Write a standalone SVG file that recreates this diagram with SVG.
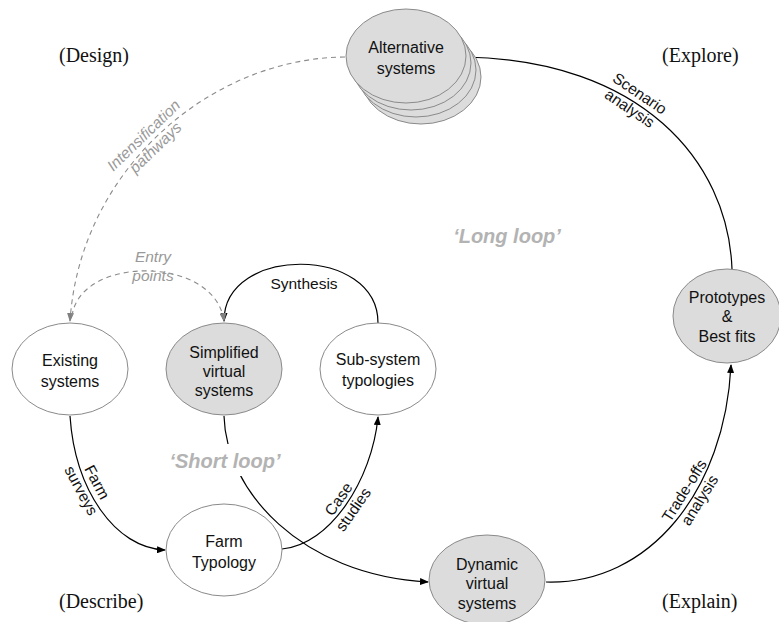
<svg xmlns="http://www.w3.org/2000/svg" width="779" height="622" viewBox="0 0 779 622">
<style>
.node{stroke:#8a8a8a;stroke-width:1}
.w{fill:#ffffff}
.g{fill:#dcdcdc}
.t{font-family:"Liberation Sans",Arial,sans-serif;font-size:16px;fill:#111;text-anchor:middle}
.lab{font-family:"Liberation Sans",Arial,sans-serif;font-size:15.5px;fill:#111;text-anchor:middle}
.glab{font-family:"Liberation Sans",Arial,sans-serif;font-size:15.5px;fill:#999;font-style:italic;text-anchor:middle}
.loop{font-family:"Liberation Sans",Arial,sans-serif;font-size:20px;font-weight:bold;font-style:italic;fill:#b3b3b3;text-anchor:middle}
.phase{font-family:"Liberation Serif","Times New Roman",serif;font-size:20px;fill:#111}
.c{fill:none;stroke:#000;stroke-width:1.2}
.d{fill:none;stroke:#8c8c8c;stroke-width:1.1;stroke-dasharray:5,4}
</style>
<defs>
<marker id="ab" markerWidth="9" markerHeight="7" refX="8" refY="3.5" orient="auto" markerUnits="userSpaceOnUse">
<path d="M0,0 L9,3.5 L0,7 z" fill="#000"/>
</marker>
<marker id="ag" markerWidth="9" markerHeight="7" refX="8" refY="3.5" orient="auto" markerUnits="userSpaceOnUse">
<path d="M0,0 L9,3.5 L0,7 z" fill="#808080"/>
</marker>
</defs>

<g id="connectors">
<path id="scenario" class="c" d="M732,269 C728,160 640,60 465,57" marker-end="url(#ab)"/>
<path id="tradeoffs" class="c" d="M546,582 C650,585 725,490 731,365" marker-end="url(#ab)"/>
<path id="farmsurveys" class="c" d="M70,416 C75,490 115,548 165,550" marker-end="url(#ab)"/>
<path id="casestudies" class="c" d="M282,549 C330,545 372,480 378,417" marker-end="url(#ab)"/>
<path id="shortloop" class="c" d="M224,416 C226,490 300,575 428,582" marker-end="url(#ab)"/>
<path id="synthesis" class="c" d="M378,323 C378,245 224,245 224,321" marker-end="url(#ab)"/>
<path id="intensification" class="d" d="M345,57 C210,58 80,170 70,321" marker-end="url(#ag)"/>
<path id="entry" class="d" d="M72,316 C80,255 215,255 224,321" marker-end="url(#ag)"/>
</g>

<g id="alternative">
<ellipse class="node g" cx="421" cy="77" rx="60" ry="47"/>
<ellipse class="node g" cx="416" cy="70" rx="60" ry="47"/>
<ellipse class="node g" cx="411" cy="63" rx="60" ry="47"/>
<ellipse class="node g" cx="406" cy="56" rx="60" ry="47"/>
<text class="t" x="406" y="53">Alternative</text>
<text class="t" x="406" y="74">systems</text>
</g>

<g id="existing">
<ellipse class="node w" cx="70" cy="369" rx="58" ry="46"/>
<text class="t" x="70" y="366">Existing</text>
<text class="t" x="70" y="387">systems</text>
</g>

<g id="simplified">
<ellipse class="node g" cx="224" cy="369" rx="58" ry="46"/>
<text class="t" x="224" y="358">Simplified</text>
<text class="t" x="224" y="377">virtual</text>
<text class="t" x="224" y="396">systems</text>
</g>

<g id="subsystem">
<ellipse class="node w" cx="378" cy="369" rx="58" ry="46"/>
<text class="t" x="378" y="365">Sub-system</text>
<text class="t" x="378" y="386">typologies</text>
</g>

<g id="farmtypology">
<ellipse class="node w" cx="224" cy="550" rx="58" ry="46"/>
<text class="t" x="224" y="547">Farm</text>
<text class="t" x="224" y="568">Typology</text>
</g>

<g id="dynamic">
<ellipse class="node g" cx="487" cy="580" rx="58" ry="45"/>
<text class="t" x="487" y="570">Dynamic</text>
<text class="t" x="487" y="589">virtual</text>
<text class="t" x="487" y="609">systems</text>
</g>

<g id="prototypes">
<ellipse class="node g" cx="727" cy="316" rx="54" ry="47"/>
<text class="t" x="727" y="303">Prototypes</text>
<text class="t" x="727" y="322">&amp;</text>
<text class="t" x="727" y="342">Best fits</text>
</g>

<g id="labels">
<text class="lab" transform="translate(634,102) rotate(34)"><tspan x="0" y="-5">Scenario</tspan><tspan x="0" y="13">analysis</tspan></text>
<text class="lab" transform="translate(693,496) rotate(-58)"><tspan x="0" y="-5">Trade-offs</tspan><tspan x="0" y="13">analysis</tspan></text>
<text class="lab" transform="translate(88,487) rotate(62)"><tspan x="0" y="-5">Farm</tspan><tspan x="0" y="13">surveys</tspan></text>
<text class="lab" transform="translate(347,505) rotate(-55)"><tspan x="0" y="-5">Case</tspan><tspan x="0" y="13">studies</tspan></text>
<text class="lab" x="304" y="289">Synthesis</text>
<text class="glab" transform="translate(150,142) rotate(-44)"><tspan x="0" y="-4">Intensification</tspan><tspan x="0" y="13">pathways</tspan></text>
<text class="glab" x="153" y="262">Entry</text>
<text class="glab" x="153" y="281">points</text>
<rect x="166" y="444" width="118" height="32" fill="#fff"/>
<text class="loop" x="225" y="468">‘Short loop’</text>
<text class="loop" x="507" y="243">‘Long loop’</text>
<text class="phase" x="59" y="62">(Design)</text>
<text class="phase" x="662" y="62">(Explore)</text>
<text class="phase" x="59" y="608">(Describe)</text>
<text class="phase" x="662" y="608">(Explain)</text>
</g>
</svg>
